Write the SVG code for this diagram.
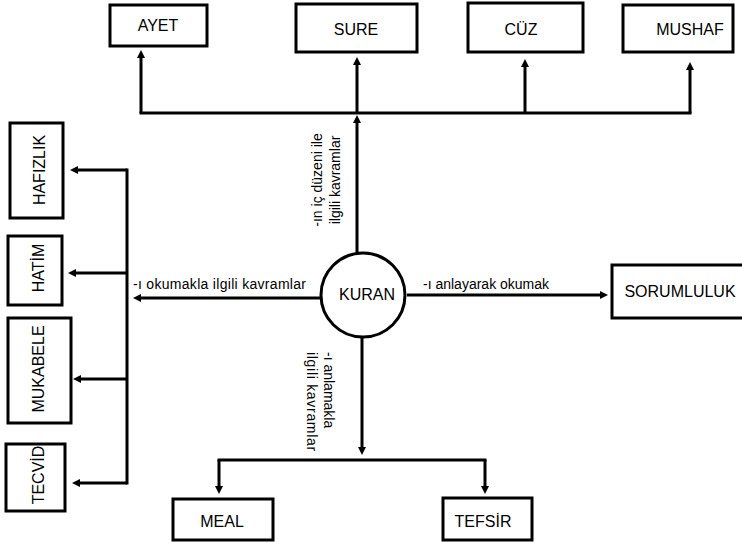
<svg xmlns="http://www.w3.org/2000/svg" width="742" height="543" viewBox="0 0 742 543">
<defs>
<style>
.box{fill:#fff;stroke:#000;stroke-width:3}
.lbl{font-family:"Liberation Sans",Arial,sans-serif;font-size:16px;fill:#000;text-anchor:middle}
.cl{font-family:"Liberation Sans",Arial,sans-serif;font-size:14px;fill:#000}
.ln{fill:none;stroke:#000;stroke-width:3}
.ar{fill:none;stroke:#000;stroke-width:3;marker-end:url(#ah)}
</style>
<marker id="ah" viewBox="0 0 8 8" markerWidth="8" markerHeight="8" markerUnits="userSpaceOnUse" refX="2" refY="4" orient="auto">
<path d="M0,0 L8,4 L0,8 z" fill="#000"/>
</marker>
</defs>
<rect width="742" height="543" fill="#fff"/>
<g id="connectors">
<path class="ln" d="M141,113 H690" stroke-linecap="square"/>
<path class="ar" d="M141,113 V56"/>
<path class="ar" d="M357,113 V63"/>
<path class="ar" d="M525,113 V65"/>
<path class="ar" d="M690,113 V68"/>
<path class="ar" d="M357,252 V121"/>
<path class="ar" d="M320,298 H139"/>
<path class="ln" d="M127,170 V483" stroke-linecap="square"/>
<path class="ar" d="M127,170 H76"/>
<path class="ar" d="M127,273 H74"/>
<path class="ar" d="M127,379 H79"/>
<path class="ar" d="M127,483 H78"/>
<path class="ar" d="M407,295 H602"/>
<path class="ar" d="M362,338 V449"/>
<path class="ln" d="M219,460 H485" stroke-linecap="square"/>
<path class="ar" d="M219,460 V488"/>
<path class="ar" d="M485,460 V488"/>
<text class="cl" transform="translate(322,180) rotate(-90)" text-anchor="middle"><tspan x="0" y="0">-ın iç düzeni ile</tspan><tspan x="0" y="18">ilgili kavramlar</tspan></text>
<text class="cl" x="133" y="289" letter-spacing="0.3">-ı okumakla ilgili kavramlar</text>
<text class="cl" x="423" y="289">-ı anlayarak okumak</text>
<text class="cl" transform="translate(324,352) rotate(90)"><tspan x="0" y="0">-ı anlamakla</tspan><tspan x="0" y="17" letter-spacing="0.7">ilgili kavramlar</tspan></text>
</g>
<g id="kuran">
<circle cx="363" cy="295" r="42" fill="#fff" stroke="#000" stroke-width="3"/>
<text class="lbl" x="367" y="300">KURAN</text>
</g>
<g id="ayet"><rect class="box" x="110" y="5" width="97" height="41"/><text class="lbl" x="158" y="31">AYET</text></g>
<g id="sure"><rect class="box" x="296" y="4" width="121" height="48"/><text class="lbl" x="356" y="35">SURE</text></g>
<g id="cuz"><rect class="box" x="468" y="3" width="115" height="49"/><text class="lbl" x="521" y="35">CÜZ</text></g>
<g id="mushaf"><rect class="box" x="623" y="5" width="110" height="47"/><text class="lbl" x="690" y="35">MUSHAF</text></g>
<g id="hafizlik"><rect class="box" x="10" y="123" width="53" height="95"/><text class="lbl" transform="translate(45,170) rotate(-90)">HAFIZLIK</text></g>
<g id="hatim"><rect class="box" x="8" y="236" width="54" height="69"/><text class="lbl" transform="translate(44,268) rotate(-90)">HATİM</text></g>
<g id="mukabele"><rect class="box" x="8" y="318" width="63" height="105"/><text class="lbl" transform="translate(44,369) rotate(-90)">MUKABELE</text></g>
<g id="tecvid"><rect class="box" x="6" y="444" width="59" height="67"/><text class="lbl" transform="translate(44,475) rotate(-90)">TECVİD</text></g>
<g id="sorumluluk"><rect class="box" x="612" y="265" width="135" height="53"/><text class="lbl" x="680" y="297">SORUMLULUK</text></g>
<g id="meal"><rect class="box" x="173" y="499" width="100" height="41"/><text class="lbl" x="222" y="527">MEAL</text></g>
<g id="tefsir"><rect class="box" x="443" y="498" width="89" height="42"/><text class="lbl" x="483" y="527">TEFSİR</text></g>
</svg>
